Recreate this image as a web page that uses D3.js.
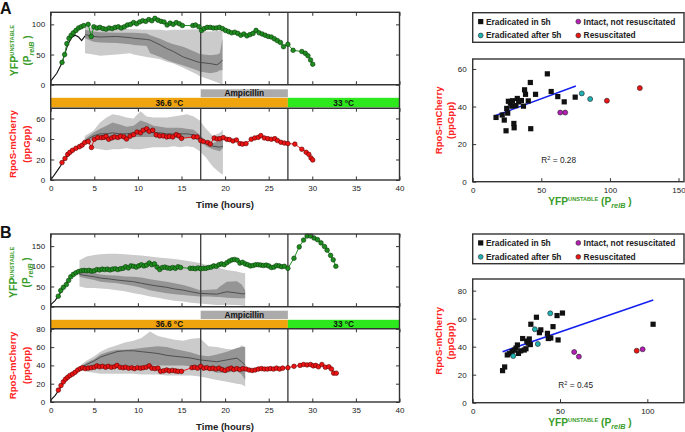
<!DOCTYPE html>
<html><head><meta charset="utf-8">
<script src="https://cdn.jsdelivr.net/npm/d3@7"></script>
<style>body{margin:0;background:#fff} svg text{font-family:"Liberation Sans",Arial,sans-serif}</style>
</head><body><svg id="c" width="685" height="432"></svg>
<script>
// ---------------- DATA ----------------
const timeTicks = [0,5,10,15,20,25,30,35,40];
const phaseNames = ["36.6 °C","33 °C"];
const phaseStart = [0,27.2];
const phaseEnd = [27.2,40];
const ampName = "Ampicillin";
const ampStart = 17.2, ampEnd = 27.2;
const markLines = [17.2, 27.2];

// Panel A – YFP
const aYfpT = [1.3,1.6,1.85,2.1,2.35,2.6,2.9,3.2,3.5,3.8,4.3,4.65,4.95,5.3,5.65,6.0,6.35,6.7,7.05,7.4,7.75,8.1,8.45,8.8,9.15,9.5,9.85,10.2,10.55,10.9,11.25,11.6,11.95,12.3,12.65,13.0,13.35,13.7,14.05,14.4,14.75,15.1,16.3,16.6,17.0,17.3,17.6,17.95,18.3,18.65,19.0,19.35,19.7,20.05,20.4,20.75,21.1,21.45,21.8,22.15,22.5,22.85,23.2,23.55,23.9,24.25,24.6,24.95,25.3,25.65,26.0,26.35,26.7,27.2,27.8,28.8,29.2,29.5,29.8,30.05];
const aYfpV = [37,50,68,77,82,86,90,94,96,98,100,80,96,94,95,93,92,94,93,95,96,94,96,99,100,103,101,104,106,105,108,106,110,107,105,104,99,102,100,103,101,98,98,99,96,90,93,95,95,94,94,95,93,90,88,86,87,85,82,84,81,83,85,90,86,84,82,80,79,76,73,70,63,67,57,55,52,48,41,34];
const aYfpFitT = [0,0.7,1.26,1.64,2.0,2.4,2.8,3.2,3.55,3.94];
const aYfpFitV = [6,19,35,52,68,78,82,79,73,81];
const aTopBandT = [3.94,4.9,5.66,7.57,9.1,9.5,11.0,11.4,12.55,13.3,14.08,15.2,16.8,17.1,18.3,19.05,19.4,19.7];
const aTopLightHi = [96,94,93,93,92,92,91,91,91,90,91,91,92,89,88,89,90,90];
const aTopLightLo = [52,50,48,50,52,50,46,45,42,38,35,28,17,14,8,4,2,0];
const aTopDarkHi = [91,88,87,86,86,86,85,82,76,71,67,63,53,51,49,50,52,77];
const aTopDarkLo = [77,71,70,69,67,66,64,52,46,41,37,32,24,22,19,21,24,24];
const aTopMed = [83,80,79,80,78,77,75,74,66,60,55,46,38,37,35,33,36,41];

// Panel A – RpoS
const aRpoT = [1.3,1.64,1.95,2.2,2.5,2.9,3.3,3.6,3.9,4.3,4.67,5.0,5.4,5.8,6.1,6.35,6.65,7.0,7.3,7.7,8.0,8.4,8.7,9.1,9.5,9.9,10.3,10.6,11.0,11.3,11.7,12.1,12.5,12.9,13.3,13.6,14.0,14.4,14.7,15.0,16.4,16.8,17.2,17.5,18.0,18.3,18.75,19.1,19.4,19.8,20.2,20.5,20.9,21.3,21.7,22.0,22.4,23.0,23.4,23.8,24.1,24.5,24.9,25.3,25.7,26.0,26.4,26.8,27.2,28.0,28.8,29.3,29.6,29.85,30.05];
const aRpoV = [17,21,25,27,29,31,32.5,34,36.5,37.5,31.7,39.7,41.3,41.3,41.5,42.6,39.7,41,42,41.5,42.6,42,40,42.6,44.2,46.8,46,48.5,50,47.5,48.5,44,43,43,42,42.5,42,44.2,43,40.6,42,42,38.5,37.5,36.5,35,41,40,40.3,41.3,39.7,39.4,38,39,35.5,35,35.5,39.7,41,41.6,43.3,41,40.3,39.7,40.3,38.5,36.8,36,35.5,35,30,27,25,21.5,19.5];
const aRpoFitT = [0,0.5,1.0,1.5,2.0,2.5,3.0,3.5,3.9];
const aRpoFitV = [0,6,12,19,24,28,31,34,37];
const aBotBandT = [3.9,4.9,5.66,6.4,7.1,7.9,8.7,9.5,10.3,11.0,11.8,12.6,13.3,14.1,14.8,15.6,16.4,17.1,17.8,18.6,19.4,19.75];
const aBotLightHi = [43,48,56,61,64,63,61,60,67,62,61,61,61,62,63,64,62,58,50,43,46,49];
const aBotLightLo = [38,31,30,29,30,30,31,30,30,31,32,32,32,33,32,33,32,28,22,13,7,5];
const aBotDarkHi = [40,46,50,53,56,54,52,53,58,56,53,52,51,51,51,50,49,44,38,36,38,40];
const aBotDarkLo = [37,40,41,41,41,41,42,42,42,42,42,41,41,41,41,41,41,38,33,30,28,31];
const aBotMed = [38,43,45,45,46,45,45,46,48,47,46,46,45,45,45,45,44,41,36,33,32,33];

// Panel B – YFP
const bYfpT = [0.87,1.15,1.45,1.8,2.05,2.3,2.6,2.9,3.2,3.5,3.8,4.1,4.4,4.7,5.0,5.3,5.6,5.9,6.2,6.5,6.8,7.1,7.4,7.7,8.0,8.3,8.6,8.9,9.2,9.5,9.8,10.1,10.4,10.7,11.0,11.3,11.6,11.9,12.2,12.5,12.8,13.1,13.4,13.7,14.0,14.3,14.6,14.9,16.0,16.3,16.6,16.9,17.2,17.5,17.8,18.1,18.4,18.7,19.0,19.3,19.6,19.9,20.2,20.5,20.8,21.1,21.4,21.7,22.0,22.3,22.6,22.9,23.2,23.5,23.8,24.1,24.4,24.7,25.0,25.3,25.6,25.9,26.2,26.5,26.8,27.2,27.9,28.5,29.0,29.4,29.8,30.2,30.6,31.0,31.4,31.7,32.1,32.4,32.7];
const bYfpV = [26,40,48,55,65,74,80,84,87,89,90,89,90,88,89,92,91,93,92,93,91,93,94,92,94,95,99,96,101,100,98,101,104,101,103,108,104,106,98,92,97,98,96,95,97,95,99,97,95,95,94,96,94,95,95,97,98,101,100,104,106,104,109,113,116,117,115,108,110,106,104,101,102,104,104,103,102,103,101,97,98,102,101,99,100,95,120,148,165,175,175,170,166,158,149,140,127,116,100];
const bYfpFitT = [0,0.5,0.9,1.5,2.0,2.5,3.0,3.3];
const bYfpFitV = [5,15,27,47,66,77,84,86];
const bTopBandT = [3.3,4.1,5.0,5.7,6.6,7.6,8.5,9.5,10.4,11.4,12.3,13.3,14.2,15.2,16.1,17.1,18.1,19.05,19.4,20.2,21.35,21.9,22.3];
const bTopLightHi = [115,124,128,130,131,131,130,128,127,124,122,120,118,115,112,108,102,98,96,91,87,84,83];
const bTopLightLo = [50,46,46,45,44,41,38,33,30,25,22,18,15,13,10,8,6,4,4,5,4,3,2];
const bTopDarkHi = [87,85,83,80,78,77,75,74,72,68,65,62,58,54,48,41,42,43,50,62,63,55,41];
const bTopDarkLo = [74,70,66,62,60,58,55,51,47,41,37,33,31,29,27,25,25,24,24,22,21,21,21];
const bTopMed = [80,77,74,71,69,66,64,62,58,54,51,48,44,41,37,33,32,31,33,37,34,32,32];

// Panel B – RpoS
const bRpoT = [0.88,1.18,1.45,1.7,1.95,2.2,2.5,2.8,3.1,3.4,3.65,3.95,4.3,4.65,5.0,5.3,5.6,5.95,6.3,6.6,6.95,7.3,7.6,7.95,8.3,8.6,8.95,9.3,9.6,9.95,10.3,10.6,10.95,11.3,11.6,11.95,12.3,12.6,12.95,13.3,13.6,13.95,14.3,14.6,15.0,16.2,16.5,16.85,17.2,17.55,17.9,18.25,18.6,18.95,19.3,19.65,20.0,20.35,20.7,21.0,21.35,21.7,22.05,22.4,22.75,23.1,23.45,23.8,24.15,24.5,24.85,25.2,25.55,25.9,26.25,26.6,27.2,27.9,28.6,29.0,29.4,29.8,30.1,30.4,30.7,31.1,31.5,31.9,32.2,32.45,32.75];
const bRpoV = [13,18,22,25,27,29,30.5,32.5,35,36.5,37.5,36.5,37,37.5,38,39.5,38.5,39,38,39,38,38.5,40,38,37.5,38,37,37.5,36.5,37.5,37,37.5,38,39.5,37,36.5,37,33.5,34,35,34,34.5,34,33.5,33.5,37.5,38,37,39,37,37.5,36.5,37,36,37,35.5,34.5,36,37,35.5,36.5,35.5,36.5,36,35,34.5,35,36,36.5,36,36,36.5,36,37,36,37,37.5,39,40,41,40.5,41,39.5,40,38.5,41,38,38.5,36,31.5,31.5];
const bRpoFitT = [0,0.5,1,1.5,2,2.5,3,3.5];
const bRpoFitV = [2,7,14,21,26,30,33,36];
const bBotBandT = [3.5,4.1,5.0,5.7,6.6,7.6,8.5,9.5,10.4,11.4,12.3,13.3,14.2,15.2,16.1,17.1,18.1,19.05,20.2,21.35,21.9,22.3];
const bBotLightHi = [41,45,50,55,59,62,65,67,70,77,72,70,68,67,69,70,61,60,58,57,62,60];
const bBotLightLo = [37,33,32,31,31,31,31,31,30,30,30,29,29,29,29,28,26,24,22,20,19,17];
const bBotDarkHi = [39,43,47,52,55,57,57,58,59,60,61,60,58,56,54,51,50,52,55,59,60,60];
const bBotDarkLo = [37,38,39,39,39,40,40,40,40,40,40,40,40,40,39,38,35,32,32,34,30,24];
const bBotMed = [38,41,45,49,52,55,56,56,55,54,53,51,50,49,48,46,45,44,46,48,44,40];

// Scatter legend
const legendNames = ["Eradicated in 5h","Intact, not resuscitated","Eradicated after 5h","Resuscitated"];
// Scatter A
const saBlack = [[17,34.2],[21.5,35.5],[23,32.8],[24.3,27.1],[24.8,39],[25.5,36.5],[26,42.8],[27.5,41.8],[28.5,40.2],[29,43.1],[30,31],[30.2,28.7],[31.5,40.5],[32.5,44.3],[33.5,42.5],[35.5,43.2],[37,40.2],[37.8,48.9],[38.5,46.5],[40.5,43],[42,52.8],[42.3,28.2],[45.8,46.5],[54.4,57.4],[57.2,48],[62,45.3],[66.7,42.5],[74.7,45]];
const saCyan = [[79.5,47],[85.6,44]];
const saMagenta = [[63.8,36.8],[67.4,36.8]];
const saRed = [[97.8,43.1],[121.8,49.8]];
const saFit = [[16.3,35.1],[75.2,50.9]];
const saR2 = "0.28";
const saXTicks = [0,50,100,150], saYTicks = [0,20,40,60];
// Scatter B
const sbBlack = [[17.1,22.9],[18.3,25.5],[19.8,34.1],[21,35],[22.5,36.5],[23.8,37.5],[24.8,39],[25.6,41.2],[26.2,35.2],[27.5,37],[28.6,45.8],[29.5,37.6],[30.5,38.5],[31,44],[31.8,42.5],[32.4,45.5],[33,41.5],[33.3,56],[36.5,61],[38.2,50],[39,52],[42.8,49.5],[43.3,45.8],[44.7,46.2],[46,54.3],[48.3,62.2],[48.9,44.8],[51.4,64],[103.3,56]];
const sbCyan = [[44.4,63.8],[35.6,52.4],[37.3,41.9],[23.2,33.3]];
const sbMagenta = [[58.1,36.2],[60.8,32.9],[97.3,38.1]];
const sbRed = [[93.9,37.1]];
const sbFit = [[17.1,36.4],[103.4,73.3]];
const sbR2 = "0.45";
const sbXTicks = [0,50,100], sbYTicks = [0,20,40,60,80];

// ---------------- DRAWING ----------------
const svg = d3.select("#c");
const GREEN_TXT = "#3a9c2a", RED_TXT = "#ff2424", FRAME = "#333";
const C = {green:"#1e8c1e", greenS:"#0a3a0a", red:"#ee1414", redS:"#5a0000",
  cyan:"#1fb2b2", magenta:"#b41eb4", light:"#cbcbcb", dark:"#959595"};

function richText(g, x, y, parts, base) {
  const t = g.append("text").attr("x", x).attr("y", y)
    .attr("font-size", base.size).attr("font-weight", base.weight || "normal")
    .attr("fill", base.fill).attr("text-anchor", base.anchor || "middle");
  if (base.rotate) t.attr("transform", `rotate(-90,${x},${y})`);
  parts.forEach(p => {
    const s = t.append("tspan").text(p.t);
    if (p.size) s.attr("font-size", p.size);
    if (p.dy) s.attr("dy", p.dy);
    if (p.italic) s.attr("font-style", "italic");
  });
  return t;
}
const yfpParts = (sz) => [{t:"YFP"},{t:"UNSTABLE", size: sz*0.55, dy: -sz*0.38}];
const prelParts = (sz) => [{t:"(P"},{t:"relB", size: sz*0.72, dy: sz*0.3, italic:true},{t:" )", dy: -sz*0.3}];

function timePanel(o) {
  const x = d3.scaleLinear().domain([0,40]).range([50.7, 399.5]);
  const yT = d3.scaleLinear().domain([0,o.topMax]).range([o.topB, o.topT]);
  const yB = d3.scaleLinear().domain([0,o.botMax]).range([o.botB, o.botT]);
  const g = svg.append("g");
  // condition bars
  phaseNames.forEach((n,i) => {
    g.append("rect").attr("x", x(phaseStart[i])).attr("y", o.tempY)
      .attr("width", x(phaseEnd[i]) - x(phaseStart[i])).attr("height", o.tempH)
      .attr("fill", i === 0 ? "#efa30c" : "#2ee81e");
    g.append("text").attr("x", (x(phaseStart[i]) + x(phaseEnd[i]))/2).attr("y", o.tempY + o.tempH/2 + 3)
      .attr("text-anchor","middle").attr("font-size",8.3).attr("font-weight","bold").attr("fill","#111").text(n);
  });
  g.append("rect").attr("x", x(ampStart)).attr("y", o.ampY).attr("width", x(ampEnd)-x(ampStart))
    .attr("height", o.ampH).attr("fill", "#ababab");
  g.append("text").attr("x", (x(ampStart)+x(ampEnd))/2).attr("y", o.ampY + o.ampH/2 + 3)
    .attr("text-anchor","middle").attr("font-size",8.3).attr("font-weight","bold").attr("fill","#111").text(ampName);

  function series(y, bandT, lHi, lLo, dHi, dLo, med, fitT, fitV, T, V, col, colS) {
    const idx = d3.range(bandT.length);
    g.append("path").datum(idx).attr("fill", C.light)
      .attr("d", d3.area().x(i => x(bandT[i])).y0(i => y(lLo[i])).y1(i => y(lHi[i])));
    g.append("path").datum(idx).attr("fill", C.dark)
      .attr("d", d3.area().x(i => x(bandT[i])).y0(i => y(dLo[i])).y1(i => y(dHi[i])));
    g.append("path").datum(idx).attr("fill","none").attr("stroke","#4f4f4f").attr("stroke-width",1)
      .attr("d", d3.line().x(i => x(bandT[i])).y(i => y(med[i])));
    g.append("path").datum(d3.range(fitT.length)).attr("fill","none").attr("stroke","#111").attr("stroke-width",1.1)
      .attr("d", d3.line().x(i => x(fitT[i])).y(i => y(fitV[i])));
    return () => {
      g.append("path").datum(d3.range(T.length)).attr("fill","none").attr("stroke",col).attr("stroke-width",1)
        .attr("d", d3.line().x(i => x(T[i])).y(i => y(V[i])));
      g.selectAll(null).data(d3.range(T.length)).join("circle")
        .attr("cx", i => x(T[i])).attr("cy", i => y(V[i])).attr("r", 2.3)
        .attr("fill", col).attr("stroke", colS).attr("stroke-width", 0.6);
    };
  }
  const dotsT = series(yT, o.tb.T, o.tb.lh, o.tb.ll, o.tb.dh, o.tb.dl, o.tb.m, o.tf.T, o.tf.V, o.td.T, o.td.V, C.green, C.greenS);
  const dotsB = series(yB, o.bb.T, o.bb.lh, o.bb.ll, o.bb.dh, o.bb.dl, o.bb.m, o.bf.T, o.bf.V, o.bd.T, o.bd.V, C.red, C.redS);
  // vertical marker lines
  markLines.forEach(t => {
    g.append("line").attr("x1", x(t)).attr("x2", x(t)).attr("y1", o.topT).attr("y2", o.topB)
      .attr("stroke","#444").attr("stroke-width",1.4);
    g.append("line").attr("x1", x(t)).attr("x2", x(t)).attr("y1", o.botT).attr("y2", o.botB)
      .attr("stroke","#444").attr("stroke-width",1.4);
  });
  dotsT(); dotsB();
  // axes
  function axes(y, yt, yb, ticks) {
    const ax = (gen, tr) => {
      const a = g.append("g").attr("transform", tr).call(gen);
      a.select(".domain").remove();
      a.selectAll("line").attr("stroke", FRAME);
      a.selectAll("text").attr("font-size", 8).attr("fill", "#222").attr("font-family", null);
      return a;
    };
    ax(d3.axisTop(x).tickValues(timeTicks).tickSize(-3.5).tickFormat(""), `translate(0,${yt})`);
    ax(d3.axisBottom(x).tickValues(timeTicks).tickSize(-3.5).tickFormat(o.labelsFor === yb ? d3.format("d") : "").tickPadding(5), `translate(0,${yb})`);
    ax(d3.axisLeft(y).tickValues(ticks).tickSize(-3.5).tickPadding(5.5), `translate(${x(0)},0)`);
    ax(d3.axisRight(y).tickValues(ticks).tickSize(-3.5).tickFormat(""), `translate(${x(40)},0)`);
  }
  o.labelsFor = o.botB;
  axes(yT, o.topT, o.topB, o.topTicks);
  axes(yB, o.botT, o.botB, o.botTicks);
  // frame
  g.append("rect").attr("x", x(0)).attr("y", o.topT).attr("width", x(40)-x(0)).attr("height", o.botB - o.topT)
    .attr("fill","none").attr("stroke",FRAME).attr("stroke-width",1.4);
  [o.topB, o.botT].forEach(yy => g.append("line").attr("x1", x(0)).attr("x2", x(40)).attr("y1", yy).attr("y2", yy)
    .attr("stroke",FRAME).attr("stroke-width",1.4));
  // labels
  g.append("text").attr("x", 225).attr("y", o.botB + 28).attr("text-anchor","middle")
    .attr("font-size",9.6).attr("font-weight","bold").attr("fill","#222").text("Time (hours)");
  const cyT = (o.topT + o.topB)/2 + 2, cyB = (o.botT + o.botB)/2;
  richText(g, 17.5, cyT, yfpParts(10.5), {size:10.5, weight:"bold", fill:GREEN_TXT, rotate:true});
  richText(g, 30.5, cyT, prelParts(10), {size:10, weight:"bold", fill:GREEN_TXT, rotate:true});
  richText(g, 16, cyB, [{t:"RpoS-mCherry"}], {size:9.6, weight:"bold", fill:RED_TXT, rotate:true});
  richText(g, 30, cyB, [{t:"(ppGpp)"}], {size:9.6, weight:"bold", fill:RED_TXT, rotate:true});
  g.append("text").attr("x", 0).attr("y", o.letterY).attr("font-size",16).attr("font-weight","bold")
    .attr("fill","#111").text(o.letter);
}

timePanel({letter:"A", letterY:13.5, topT:12.3, topB:84.7, topMax:120, topTicks:[0,50,100],
  ampY:89.3, ampH:8, tempY:97.8, tempH:9.6, botT:108.2, botB:180, botMax:70, botTicks:[0,20,40,60],
  tb:{T:aTopBandT, lh:aTopLightHi, ll:aTopLightLo, dh:aTopDarkHi, dl:aTopDarkLo, m:aTopMed},
  tf:{T:aYfpFitT, V:aYfpFitV}, td:{T:aYfpT, V:aYfpV},
  bb:{T:aBotBandT, lh:aBotLightHi, ll:aBotLightLo, dh:aBotDarkHi, dl:aBotDarkLo, m:aBotMed},
  bf:{T:aRpoFitT, V:aRpoFitV}, bd:{T:aRpoT, V:aRpoV}});
timePanel({letter:"B", letterY:238, topT:234, topB:306.7, topMax:180, topTicks:[0,50,100,150],
  ampY:310.7, ampH:8.3, tempY:319.8, tempH:9, botT:328.8, botB:402, botMax:80, botTicks:[0,20,40,60,80],
  tb:{T:bTopBandT, lh:bTopLightHi, ll:bTopLightLo, dh:bTopDarkHi, dl:bTopDarkLo, m:bTopMed},
  tf:{T:bYfpFitT, V:bYfpFitV}, td:{T:bYfpT, V:bYfpV},
  bb:{T:bBotBandT, lh:bBotLightHi, ll:bBotLightLo, dh:bBotDarkHi, dl:bBotDarkLo, m:bBotMed},
  bf:{T:bRpoFitT, V:bRpoFitV}, bd:{T:bRpoT, V:bRpoV}});

function scatter(o) {
  const g = svg.append("g");
  const L = 472.7, R = 684;
  const x = d3.scaleLinear().domain([0, o.xMax]).range([L, R]);
  const y = d3.scaleLinear().domain([0, o.yMax]).range([o.bot, o.top]);
  // legend
  g.append("rect").attr("x", L).attr("y", o.legT).attr("width", R - L).attr("height", o.legH)
    .attr("fill","#fff").attr("stroke",FRAME).attr("stroke-width",1.4);
  const r1 = o.legT + o.legH*0.3, r2 = o.legT + o.legH*0.77;
  const items = [[480.7,r1,"sq","#111",legendNames[0]],[578.3,r1,"ci",C.magenta,legendNames[1]],
                 [480.7,r2,"ci",C.cyan,legendNames[2]],[578.3,r2,"ci",C.red,legendNames[3]]];
  items.forEach(([mx,my,shape,col,name]) => {
    if (shape === "sq") g.append("rect").attr("x", mx-2.6).attr("y", my-2.6).attr("width",5.2).attr("height",5.2).attr("fill",col);
    else g.append("circle").attr("cx", mx).attr("cy", my).attr("r", 2.4).attr("fill", col).attr("stroke","#222").attr("stroke-width",0.6);
    g.append("text").attr("x", mx+5.3).attr("y", my+3).attr("font-size",8.4).attr("font-weight","bold").attr("fill","#222").text(name);
  });
  // fit line
  g.append("line").attr("x1", x(o.fit[0][0])).attr("y1", y(o.fit[0][1])).attr("x2", x(o.fit[1][0])).attr("y2", y(o.fit[1][1]))
    .attr("stroke","#1420ee").attr("stroke-width",1.5);
  g.selectAll(null).data(o.black).join("rect")
    .attr("x", d => x(d[0]) - 2.6).attr("y", d => y(d[1]) - 2.6).attr("width",5.2).attr("height",5.2).attr("fill","#111");
  [[o.cyan,C.cyan],[o.magenta,C.magenta],[o.red,C.red]].forEach(([arr,col]) => {
    g.selectAll(null).data(arr).join("circle").attr("cx", d => x(d[0])).attr("cy", d => y(d[1])).attr("r", 2.5)
      .attr("fill", col).attr("stroke","#222").attr("stroke-width",0.6);
  });
  // axes
  const ax = (gen, tr) => {
    const a = g.append("g").attr("transform", tr).call(gen);
    a.select(".domain").remove();
    a.selectAll("line").attr("stroke", FRAME);
    a.selectAll("text").attr("font-size", 8).attr("fill", "#222").attr("font-family", null);
  };
  ax(d3.axisBottom(x).tickValues(o.xTicks).tickSize(-3.5).tickPadding(6), `translate(0,${o.bot})`);
  ax(d3.axisLeft(y).tickValues(o.yTicks).tickSize(-3.5).tickPadding(6), `translate(${L},0)`);
  g.append("rect").attr("x", L).attr("y", o.top).attr("width", R-L).attr("height", o.bot - o.top)
    .attr("fill","none").attr("stroke",FRAME).attr("stroke-width",1.4);
  // R^2
  richText(g, o.r2x, o.r2y, [{t:"R"},{t:"2", size:5.5, dy:-3.5},{t:" = " + o.r2, dy:3.5}], {size:8.3, fill:"#222"});
  // axis labels
  richText(g, 590, o.bot + 23.5, [...yfpParts(10.2), {t:"  "}, ...prelParts(10.2).map((p,i)=> i===0 ? Object.assign({}, p, {dy: 10.2*0.38}) : p)],
    {size:10.2, weight:"bold", fill:GREEN_TXT});
  const cy = (o.top + o.bot)/2;
  richText(g, 442.5, cy, [{t:"RpoS-mCherry"}], {size:9.6, weight:"bold", fill:RED_TXT, rotate:true});
  richText(g, 454, cy, [{t:"(ppGpp)"}], {size:9.6, weight:"bold", fill:RED_TXT, rotate:true});
}

scatter({legT:12.7, legH:29.6, top:59, bot:181.7, xMax:154, yMax:65.3, xTicks:saXTicks, yTicks:saYTicks,
  black:saBlack, cyan:saCyan, magenta:saMagenta, red:saRed, fit:saFit, r2:saR2, r2x:558.7, r2y:163});
scatter({legT:234, legH:29.7, top:279, bot:402.7, xMax:121, yMax:88.3, xTicks:sbXTicks, yTicks:sbYTicks,
  black:sbBlack, cyan:sbCyan, magenta:sbMagenta, red:sbRed, fit:sbFit, r2:sbR2, r2x:575.7, r2y:388});
</script>
</body></html>
